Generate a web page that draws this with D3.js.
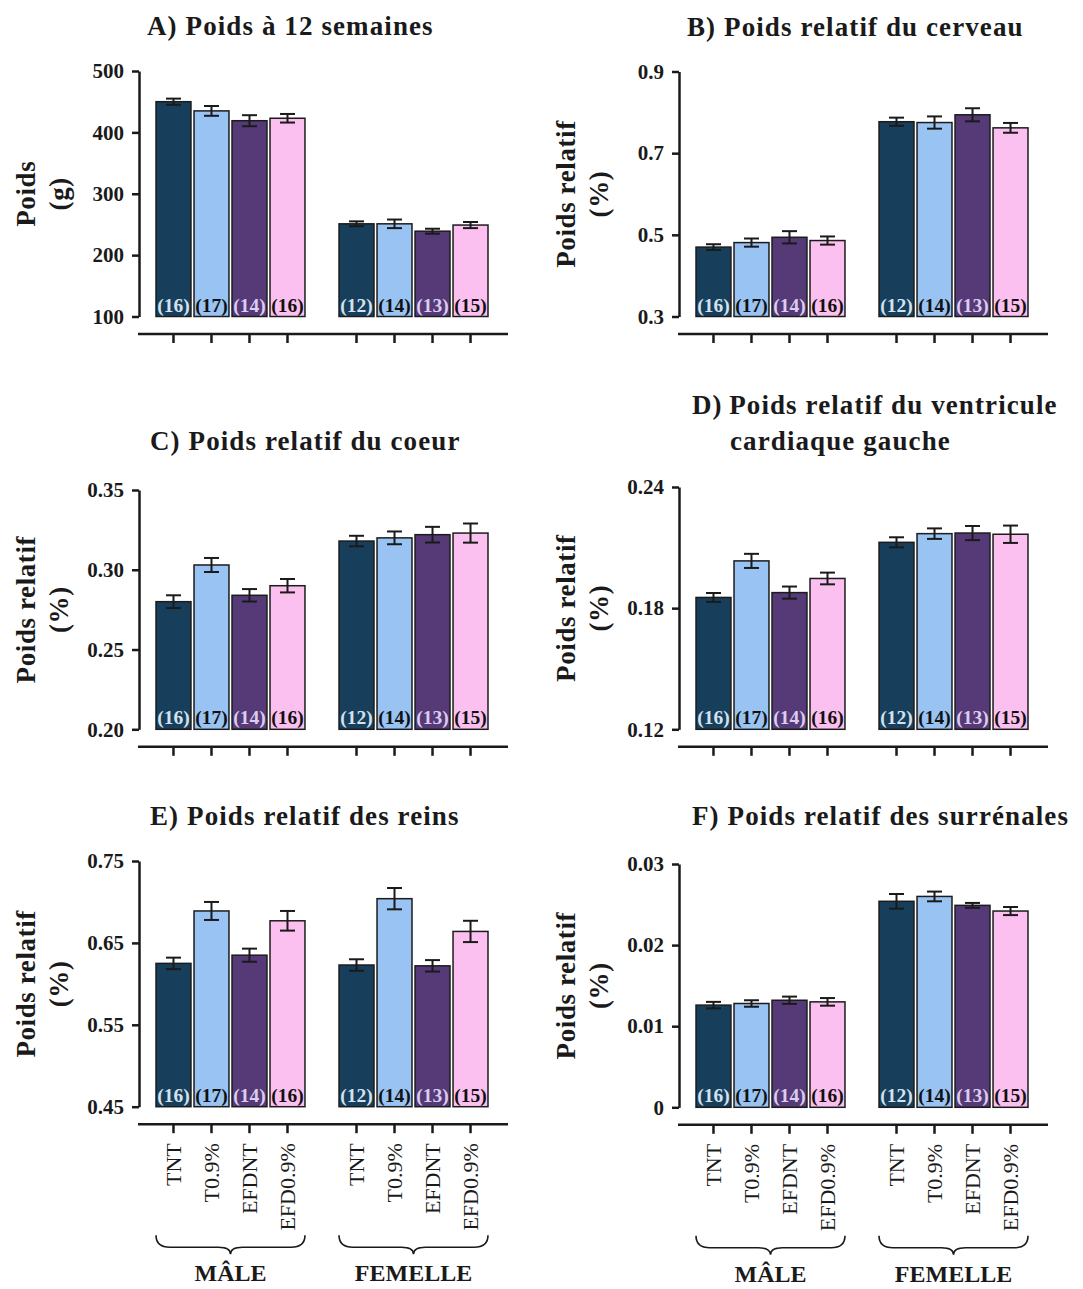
<!DOCTYPE html>
<html>
<head>
<meta charset="utf-8">
<script src="https://cdn.jsdelivr.net/npm/d3@7"></script>
<style>
body { margin: 0; background: #fff; }
svg text { font-family: "Liberation Serif", "Times New Roman", serif; }
</style>
</head>
<body>
<svg id="chart" width="1083" height="1289"></svg>
<script>
const groups = ['TNT', 'T0.9%', 'EFDNT', 'EFD0.9%'];
const sexes = ['MÂLE', 'FEMELLE'];
const counts = [16, 17, 14, 16, 12, 14, 13, 15];

// male TNT, T0.9%, EFDNT, EFD0.9% then female, same order
const poids12 = [450, 435, 419, 423, 251, 251, 239, 249];
const poids12Err = [5, 8, 9, 7, 4, 7, 4, 5];
const cerveau = [0.470, 0.481, 0.494, 0.486, 0.777, 0.775, 0.794, 0.762];
const cerveauErr = [0.007, 0.010, 0.015, 0.010, 0.010, 0.015, 0.016, 0.012];
const coeur = [0.280, 0.303, 0.284, 0.290, 0.318, 0.320, 0.322, 0.323];
const coeurErr = [0.004, 0.0044, 0.0039, 0.0042, 0.0033, 0.004, 0.0049, 0.006];
const ventricule = [0.1853, 0.2034, 0.1877, 0.1947, 0.2126, 0.2169, 0.2172, 0.2166];
const ventriculeErr = [0.0022, 0.0035, 0.003, 0.0029, 0.0025, 0.0026, 0.0035, 0.0043];
const reins = [0.625, 0.689, 0.635, 0.677, 0.623, 0.704, 0.622, 0.664];
const reinsErr = [0.007, 0.011, 0.008, 0.012, 0.007, 0.013, 0.007, 0.013];
const surrenales = [0.0126, 0.0128, 0.0132, 0.0130, 0.0254, 0.0260, 0.0249, 0.0242];
const surrenalesErr = [0.0004, 0.0004, 0.00045, 0.00047, 0.0009, 0.0006, 0.0003, 0.0005];

const ticksA = [100, 200, 300, 400, 500];
const ticksB = [0.3, 0.5, 0.7, 0.9];
const ticksC = [0.20, 0.25, 0.30, 0.35];
const ticksD = [0.12, 0.18, 0.24];
const ticksE = [0.45, 0.55, 0.65, 0.75];
const ticksF = [0, 0.01, 0.02, 0.03];

const colors = ['#173f5c', '#98c3f2', '#553a77', '#fcc0f0'];
const countColors = ['#d3e2ee', '#111', '#dccdf0', '#111'];

const f2 = d3.format('.2f');
const panels = [
    {title: ['A) Poids à 12 semaines'], tx: [147], ty: [35], ylabel: ['Poids', '(g)'],
     values: poids12, errors: poids12Err, ticks: ticksA, fmt: d3.format('d'), left: 139, top: 71, bottom: 316.5},
    {title: ['B) Poids relatif du cerveau'], tx: [687], ty: [36], ylabel: ['Poids relatif', '(%)'],
     values: cerveau, errors: cerveauErr, ticks: ticksB, fmt: d3.format('.1f'), left: 679, top: 71.5, bottom: 316.5},
    {title: ['C) Poids relatif du coeur'], tx: [150], ty: [450], ylabel: ['Poids relatif', '(%)'],
     values: coeur, errors: coeurErr, ticks: ticksC, fmt: f2, left: 139, top: 490, bottom: 729.3},
    {title: ['D)\u2009Poids relatif du ventricule', 'cardiaque gauche'], tx: [692, 730], ty: [414, 450], ylabel: ['Poids relatif', '(%)'],
     values: ventricule, errors: ventriculeErr, ticks: ticksD, fmt: f2, left: 679, top: 487, bottom: 729.3},
    {title: ['E) Poids relatif des reins'], tx: [150], ty: [825], ylabel: ['Poids relatif', '(%)'],
     values: reins, errors: reinsErr, ticks: ticksE, fmt: f2, left: 139, top: 861, bottom: 1106.7},
    {title: ['F) Poids relatif des surrénales'], tx: [692], ty: [825], ylabel: ['Poids relatif', '(%)'],
     values: surrenales, errors: surrenalesErr, ticks: ticksF, fmt: d => d === 0 ? '0' : f2(d), left: 679, top: 864, bottom: 1107.3}
];

const svg = d3.select('#chart');

panels.forEach((p, i) => {
    const g = svg.append('g');
    const lo = p.ticks[0], hi = p.ticks[p.ticks.length - 1];
    const y = d3.scaleLinear().domain([lo, hi]).range([p.bottom, p.top]);
    const x0 = d3.scaleBand().domain(sexes).range([p.left + 17, p.left + 349]).paddingInner(0.186);
    const x1 = d3.scaleBand().domain(groups).range([0, x0.bandwidth()]).paddingInner(0.08);

    const rows = p.values.map((v, k) => ({
        sex: sexes[Math.floor(k / 4)], group: groups[k % 4], gi: k % 4,
        value: v, err: p.errors[k], n: counts[k]
    }));
    const xl = d => x0(d.sex) + x1(d.group);
    const xm = d => xl(d) + x1.bandwidth() / 2;

    // titles
    g.selectAll('text.title').data(p.title).join('text')
        .attr('class', 'title')
        .attr('x', (d, k) => p.tx[k]).attr('y', (d, k) => p.ty[k])
        .attr('font-size', 27).attr('font-weight', 'bold')
        .attr('letter-spacing', 1.1).attr('fill', '#1a1a1a')
        .text(d => d);

    // y label
    const cy = (p.top + p.bottom) / 2;
    g.selectAll('text.ylab').data(p.ylabel).join('text')
        .attr('class', 'ylab')
        .attr('transform', (d, k) => `translate(${p.left - 104 + k * 33},${cy}) rotate(-90)`)
        .attr('text-anchor', 'middle')
        .attr('font-size', 27).attr('font-weight', 'bold')
        .attr('letter-spacing', 0.6).attr('fill', '#1a1a1a')
        .text(d => d);

    // y axis
    g.append('g')
        .attr('transform', `translate(${p.left},0)`)
        .call(d3.axisLeft(y).tickValues(p.ticks).tickFormat(p.fmt).tickSize(7).tickSizeOuter(0).tickPadding(8))
        .call(a => a.select('.domain').attr('stroke', '#1a1a1a').attr('stroke-width', 2.5))
        .call(a => a.selectAll('.tick line').attr('stroke', '#1a1a1a').attr('stroke-width', 2.5))
        .call(a => a.selectAll('.tick text')
            .attr('font-size', 21).attr('font-weight', 'bold').attr('fill', '#1a1a1a'));

    // bars
    g.selectAll('rect.bar').data(rows).join('rect')
        .attr('class', 'bar')
        .attr('x', xl).attr('width', x1.bandwidth())
        .attr('y', d => y(d.value)).attr('height', d => y(lo) - y(d.value))
        .attr('fill', d => colors[d.gi])
        .attr('stroke', '#1c1c1c').attr('stroke-width', 1.5);

    // error bars
    const eb = g.selectAll('g.err').data(rows).join('g').attr('class', 'err')
        .attr('stroke', '#1a1a1a').attr('stroke-width', 2);
    eb.append('line')
        .attr('x1', xm).attr('x2', xm)
        .attr('y1', d => y(d.value - d.err)).attr('y2', d => y(d.value + d.err));
    eb.append('line')
        .attr('x1', d => xm(d) - 7.5).attr('x2', d => xm(d) + 7.5)
        .attr('y1', d => y(d.value + d.err)).attr('y2', d => y(d.value + d.err));
    eb.append('line')
        .attr('x1', d => xm(d) - 7.5).attr('x2', d => xm(d) + 7.5)
        .attr('y1', d => y(d.value - d.err)).attr('y2', d => y(d.value - d.err));

    // n labels
    g.selectAll('text.n').data(rows).join('text')
        .attr('class', 'n')
        .attr('x', xm).attr('y', p.bottom - 5)
        .attr('text-anchor', 'middle')
        .attr('font-size', 19.5).attr('font-weight', 'bold')
        .attr('fill', d => countColors[d.gi])
        .text(d => `(${d.n})`);

    // bottom axis
    const by = p.bottom + 17.5;
    g.append('line')
        .attr('x1', p.left - 1).attr('x2', p.left + 369)
        .attr('y1', by).attr('y2', by)
        .attr('stroke', '#1a1a1a').attr('stroke-width', 2.5);
    g.selectAll('line.xt').data(rows).join('line')
        .attr('class', 'xt')
        .attr('x1', xm).attr('x2', xm)
        .attr('y1', by).attr('y2', by + 9)
        .attr('stroke', '#1a1a1a').attr('stroke-width', 2.5);

    if (i >= 4) {
        g.selectAll('text.xl').data(rows).join('text')
            .attr('class', 'xl')
            .attr('transform', d => `translate(${xm(d)},${by + 19}) rotate(-90)`)
            .attr('text-anchor', 'end').attr('dy', '0.35em')
            .attr('font-size', 22).attr('fill', '#1a1a1a')
            .text(d => d.group);

        const y0 = by + 111;
        const brace = s => {
            const a = x0(s), b = a + x0.bandwidth(), m = (a + b) / 2;
            return `M${a},${y0} Q${a},${y0 + 12} ${a + 14},${y0 + 12} L${m - 12},${y0 + 12} ` +
                `Q${m},${y0 + 12} ${m},${y0 + 19} Q${m},${y0 + 12} ${m + 12},${y0 + 12} ` +
                `L${b - 14},${y0 + 12} Q${b},${y0 + 12} ${b},${y0}`;
        };
        g.selectAll('path.brace').data(sexes).join('path')
            .attr('class', 'brace')
            .attr('d', brace)
            .attr('fill', 'none').attr('stroke', '#1a1a1a').attr('stroke-width', 1.6);
        g.selectAll('text.sex').data(sexes).join('text')
            .attr('class', 'sex')
            .attr('x', s => x0(s) + x0.bandwidth() / 2).attr('y', by + 157)
            .attr('text-anchor', 'middle')
            .attr('font-size', 24).attr('font-weight', 'bold').attr('fill', '#1a1a1a')
            .text(s => s);
    }
});
</script>
</body>
</html>
